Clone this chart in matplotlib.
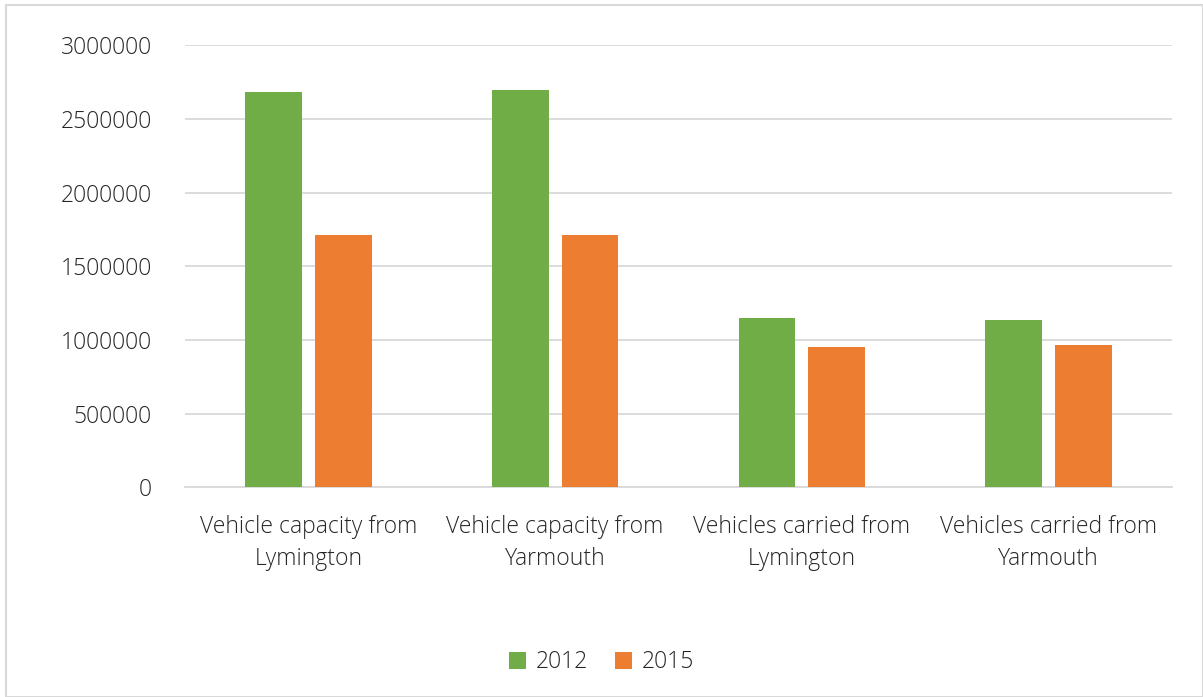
import numpy as np
import matplotlib.pyplot as plt
from matplotlib.patches import Rectangle

categories = ["Vehicle capacity from\nLymington", "Vehicle capacity from\nYarmouth",
              "Vehicles carried from\nLymington", "Vehicles carried from\nYarmouth"]
series_names = ["2012", "2015"]
values_2012 = [2683000, 2699000, 1152000, 1133000]
values_2015 = [1710000, 1710000, 952000, 964000]
yticks = [0, 500000, 1000000, 1500000, 2000000, 2500000, 3000000]

plt.rcParams['font.family'] = ['Open Sans', 'DejaVu Sans']
plt.rcParams['font.weight'] = 'light'

fig = plt.figure(figsize=(12.03, 6.97), dpi=100)
ax = fig.add_axes([0.154, 0.301, 0.820, 0.634])

x = np.arange(len(categories))
w = 0.23
ax.bar(x - 0.1415, values_2012, w, color="#70ad47", label=series_names[0], zorder=3)
ax.bar(x + 0.1415, values_2015, w, color="#ed7d31", label=series_names[1], zorder=3)

ax.set_xlim(-0.5, len(categories) - 0.5)
ax.set_ylim(0, 3000000)
ax.set_yticks(yticks)
ax.set_yticklabels([str(v) for v in yticks])
ax.set_xticks(x)
ax.set_xticklabels(categories, fontsize=16.5, color="#262626", linespacing=1.45)
ax.tick_params(axis='y', labelsize=16.5, labelcolor="#262626", length=0, pad=24)
ax.tick_params(axis='x', length=0, pad=20)
ax.grid(axis='y', color="#d9d9d9", linewidth=1.3, zorder=0)
for s in ["top", "right", "left"]:
    ax.spines[s].set_visible(False)
ax.spines["bottom"].set_color("#d9d9d9")
ax.spines["bottom"].set_linewidth(1.3)

fig.legend(loc="center", bbox_to_anchor=(0.5, 0.05), ncol=2, frameon=False,
           fontsize=16.5, handlelength=0.75, handleheight=0.75, columnspacing=1.2,
           handletextpad=0.4, labelcolor="#262626")

fig.patches.append(Rectangle((0.005, 0.0), 0.995, 0.993, transform=fig.transFigure,
                             fill=False, edgecolor="#d9d9d9", linewidth=1.5))

fig.savefig("out.png", dpi=100)
